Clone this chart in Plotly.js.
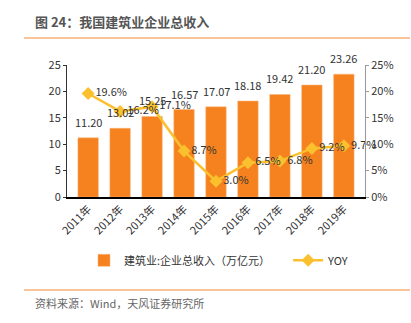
<!DOCTYPE html>
<html><head><meta charset="utf-8">
<script src="https://cdn.plot.ly/plotly-3.0.1.min.js"></script>
<style>html,body{margin:0;padding:0;background:#fff}#c{width:411px;height:323px}</style>
</head><body><div id="c"></div>
<script>
const years = ['2011年','2012年','2013年','2014年','2015年','2016年','2017年','2018年','2019年'];
const revenue = [11.20, 13.02, 15.25, 16.57, 17.07, 18.18, 19.42, 21.20, 23.26];
const yoy = [19.6, 16.2, 17.1, 8.7, 3.0, 6.5, 6.8, 9.2, 9.7];
const barName = '建筑业:企业总收入（万亿元）';
const lineName = 'YOY';
const titleText = '图 24：我国建筑业企业总收入';
const sourceText = '资料来源：Wind，天风证券研究所';

const F = '"Noto Sans CJK SC", "Noto Sans", sans-serif';
const data = [
  {type:'bar', x:years, y:revenue, name:barName,
   marker:{color:'#F5821F', line:{color:'#F9B47A', width:0.5}},
   width:0.64, legend:'legend'},
  {type:'scatter', mode:'lines+markers+text', x:years, y:yoy, yaxis:'y2', name:lineName,
   line:{color:'#FAC02E', width:2.5}, marker:{symbol:'diamond', size:10, color:'#FAC02E'},
   text:yoy.map(v=>v.toFixed(1)+'%'), textposition:'middle right',
   textfont:{size:11, color:'#333', family:F}, cliponaxis:false, legend:'legend2'}
];
const barLabels = years.map((c,i)=>({x:c, y:revenue[i], xref:'x', yref:'y', text:revenue[i].toFixed(2),
  showarrow:false, yanchor:'bottom', yshift:6, font:{size:11, color:'#333', family:F}}));
const layout = {
  width:411, height:323, margin:{l:67, r:46, t:65, b:126},
  paper_bgcolor:'#fff', plot_bgcolor:'#fff',
  font:{family:F, size:11, color:'#333'},
  showlegend:true,
  legend:{orientation:'h', x:0.057, y:-0.48, xanchor:'left', yanchor:'middle',
    font:{size:11, color:'#333', family:F}},
  legend2:{orientation:'h', x:0.742, y:-0.48, xanchor:'left', yanchor:'middle',
    font:{size:11, color:'#333', family:F}},
  xaxis:{type:'category', tickangle:-45, showline:true, linecolor:'#000', linewidth:1.5,
    ticks:'', tickfont:{size:11, color:'#333'}, showgrid:false},
  yaxis:{range:[0,25], dtick:5, showline:true, linecolor:'#333', linewidth:1, ticks:'outside',
    ticklen:3, tickcolor:'#333', showgrid:false, zeroline:false, tickfont:{size:11, color:'#333'}},
  yaxis2:{range:[0,25], dtick:5, overlaying:'y', side:'right', ticksuffix:'%', showline:true,
    linecolor:'#999', ticks:'outside', ticklen:3, tickcolor:'#999', showgrid:false, zeroline:false,
    tickfont:{size:11, color:'#333'}},
  shapes:[
    {type:'line', xref:'paper', yref:'paper', x0:-0.144, x1:1.151, y0:1.2045, y1:1.2045,
     line:{color:'#F8B07A', width:1.5}},
    {type:'line', xref:'paper', yref:'paper', x0:-0.144, x1:1.151, y0:-0.7045, y1:-0.7045,
     line:{color:'#F8B07A', width:1.5}}
  ],
  annotations:[
    {xref:'paper', yref:'paper', x:-0.114, y:1.33, xanchor:'left', yanchor:'middle', showarrow:false,
     text:'<b>'+titleText+'</b>', font:{size:13, color:'#555', family:F}},
    {xref:'paper', yref:'paper', x:-0.114, y:-0.80, xanchor:'left', yanchor:'middle', showarrow:false,
     text:sourceText, font:{size:11, color:'#666', family:F}}
  ].concat(barLabels)
};
Plotly.newPlot('c', data, layout, {displayModeBar:false, staticPlot:true});
</script></body></html>
